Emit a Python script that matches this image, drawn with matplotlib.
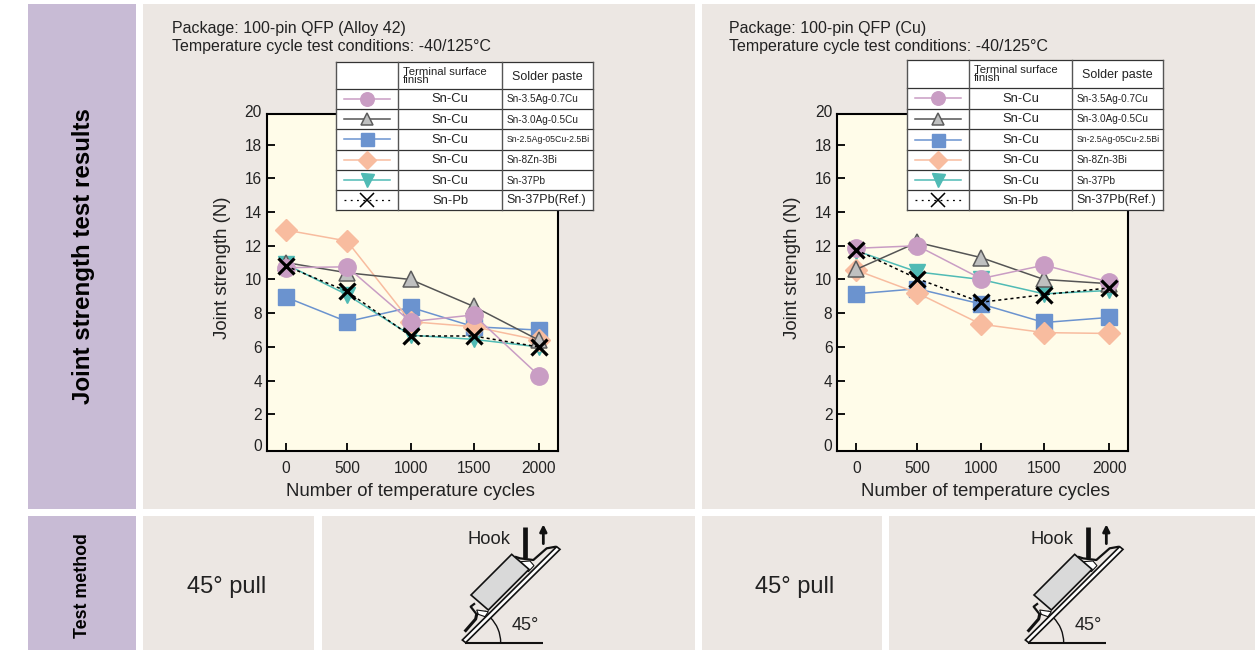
import matplotlib
matplotlib.use('Agg')
import matplotlib.pyplot as plt
from matplotlib.patches import Polygon, Rectangle, Arc

plt.rcParams['font.family'] = ['Liberation Sans', 'DejaVu Sans']

W, H = 1255, 650

# values
cycles = [0, 500, 1000, 1500, 2000]
cycle_pos = [0, 482, 985, 1484, 2000]  # the ticks are not quite evenly spaced
y_ticks = [2, 4, 6, 8, 10, 12, 14, 16, 18]

finish = ['Sn-Cu', 'Sn-Cu', 'Sn-Cu', 'Sn-Cu', 'Sn-Cu', 'Sn-Pb']
paste = ['Sn-3.5Ag-0.7Cu', 'Sn-3.0Ag-0.5Cu', 'Sn-2.5Ag-05Cu-2.5Bi', 'Sn-8Zn-3Bi', 'Sn-37Pb', 'Sn-37Pb(Ref.)']

alloy_circle = [10.7, 10.75, 7.5, 7.9, 4.3]
alloy_triangle = [11.0, 10.4, 10.0, 8.4, 6.4]
alloy_square = [8.95, 7.5, 8.35, 7.2, 7.0]
alloy_diamond = [12.93, 12.28, 7.5, 7.2, 6.4]
alloy_teal = [10.9, 9.1, 6.7, 6.45, 6.0]
alloy_ref = [10.8, 9.3, 6.65, 6.65, 6.0]

cu_circle = [11.85, 12.0, 10.05, 10.85, 9.85]
cu_triangle = [10.6, 12.2, 11.3, 10.0, 9.75]
cu_square = [9.15, 9.45, 8.55, 7.45, 7.75]
cu_diamond = [10.55, 9.2, 7.35, 6.85, 6.8]
cu_teal = [11.7, 10.45, 10.0, 9.15, 9.35]
cu_ref = [11.75, 10.05, 8.65, 9.1, 9.5]

# legend order
styles = [
    dict(color='#c99dc4', marker='o', ms=12.5, mfc='#c99dc4', mec='#c99dc4', lw=1.1, ls='-'),
    dict(color='#555555', marker='^', ms=11, mfc='#bfc0c0', mec='#5c5c5c', mew=1.1, lw=1.1, ls='-'),
    dict(color='#6b93cf', marker='s', ms=12, mfc='#6b93cf', mec='#6b93cf', lw=1.1, ls='-'),
    dict(color='#f8bc9f', marker='D', ms=11.3, mfc='#f8bc9f', mec='#f8bc9f', lw=1.1, ls='-'),
    dict(color='#50bbb5', marker='v', ms=12, mfc='#50bbb5', mec='#50bbb5', lw=1.1, ls='-'),
    dict(color='black', marker='x', ms=11, mec='black', mew=2.3, lw=1.1, ls=(0, (2, 2))),
]
draw_order = [4, 2, 3, 1, 0, 5]

PURPLE = '#c8bbd5'
BEIGE = '#ece7e3'
TEXT = '#222222'

fig = plt.figure(figsize=(W / 100, H / 100), dpi=100, facecolor='white')

# background panels, in pixel coords
bg = fig.add_axes([0, 0, 1, 1], zorder=0)
bg.set_xlim(0, W)
bg.set_ylim(H, 0)
bg.axis('off')
for x0, x1, y0, y1, c in [(28, 136, 4, 509, PURPLE), (28, 136, 516, 650, PURPLE),
                          (143, 695, 4, 509, BEIGE), (702, 1255, 4, 509, BEIGE),
                          (143, 314, 516, 650, BEIGE), (322, 695, 516, 650, BEIGE),
                          (702, 882, 516, 650, BEIGE), (889, 1255, 516, 650, BEIGE)]:
    bg.add_patch(Rectangle((x0, y0), x1 - x0, y1 - y0, fc=c, ec='none'))

bg.text(83.5, 256, 'Joint strength test results', rotation=90, ha='center', va='center',
        fontsize=17.4, fontweight='bold', color='black')
bg.text(82.5, 585.5, 'Test method', rotation=90, ha='center', va='center',
        fontsize=12.8, fontweight='bold', color='black')


def strength_chart(x_left, x_right, x_zero, x_label_px, values):
    ax = fig.add_axes([x_left / W, 1 - 450.7 / H, (x_right - x_left) / W, (450.7 - 114) / H], zorder=1)
    ax.set_facecolor('#fffce9')
    scale = 253 / 2000
    ax.set_xlim((x_left - x_zero) / scale, (x_right - x_zero) / scale)
    ax.set_ylim(-0.15, 19.81)
    for i in draw_order:
        ax.plot(cycle_pos, values[i], clip_on=False, **styles[i])
    ax.set_xticks(cycle_pos)
    ax.set_xticklabels(cycles)
    ax.set_yticks(y_ticks)
    ax.tick_params(direction='in', length=6, width=1.4, labelsize=11.2, color='#111111', labelcolor=TEXT)
    ax.tick_params(axis='x', pad=7.7)
    ax.tick_params(axis='y', pad=3.5)
    for val, lab in [(19.9, '20'), (0.12, '0')]:
        ax.annotate(lab, (0, val), xycoords=ax.get_yaxis_transform(), xytext=(-3.5, 0),
                    textcoords='offset points', ha='right', va='center', fontsize=11.2, color=TEXT,
                    annotation_clip=False)
    for s in ax.spines.values():
        s.set_linewidth(1.5)
    ax.set_xlabel('Number of temperature cycles', fontsize=13.4, color=TEXT)
    ax.xaxis.set_label_coords((x_label_px - x_left) / (x_right - x_left), -0.12)
    ax.xaxis.label.set_va('center')
    ax.set_ylabel('Joint strength (N)', fontsize=13.4, color=TEXT)
    ax.yaxis.set_label_coords((222.5 + x_zero - 286 - x_left) / (x_right - x_left), (450.7 - 268) / (450.7 - 114))
    ax.yaxis.label.set_va('center')
    return ax


strength_chart(266.7, 557.7, 286, 410, [alloy_circle, alloy_triangle, alloy_square, alloy_diamond, alloy_teal, alloy_ref])
strength_chart(837.3, 1128, 856.3, 985.5, [cu_circle, cu_triangle, cu_square, cu_diamond, cu_teal, cu_ref])

# everything on top of the charts, pixel coords again
top = fig.add_axes([0, 0, 1, 1], zorder=2)
top.set_xlim(0, W)
top.set_ylim(H, 0)
top.axis('off')
top.patch.set_alpha(0)


def legend_table(xs, ys):
    top.add_patch(Rectangle((xs[0], ys[0]), xs[3] - xs[0], ys[7] - ys[0], fc='white', ec='none', zorder=3))
    for y in ys:
        top.plot([xs[0], xs[3]], [y, y], color='#333333', lw=0.9, zorder=4)
    for x in xs:
        top.plot([x, x], [ys[0], ys[7]], color='#555555', lw=1.0, zorder=4)
    top.text(xs[1] + 5, (ys[0] + ys[1]) / 2 + 0.5, 'Terminal surface\nfinish', ha='left', va='center',
             fontsize=8.2, linespacing=0.75, color=TEXT, zorder=5)
    top.text((xs[2] + xs[3]) / 2, (ys[0] + ys[1]) / 2 + 1.5, 'Solder paste', ha='center', va='center',
             fontsize=9, color=TEXT, zorder=5)
    cx = (xs[0] + xs[1]) / 2
    for i in range(6):
        yc = (ys[i + 1] + ys[i + 2]) / 2
        st = dict(styles[i])
        st['ms'] = st['ms'] * 0.78
        if i == 5:
            st['mew'] = 1.1
            st['ms'] = 10.5
            st['ls'] = (0, (1.5, 3.5))
            st['lw'] = 0.9
        top.plot([cx - 23, cx, cx + 23], [yc, yc, yc], markevery=[1], zorder=5, **st)
        top.text((xs[1] + xs[2]) / 2, yc + 0.5, finish[i], ha='center', va='center', fontsize=9.4,
                 color=TEXT, zorder=5)
        fs = 9 if i == 5 else 6.3 if i == 2 else 7.2
        top.text(xs[2] + 4.5, yc + 0.5, paste[i], ha='left', va='center', fontsize=fs, color=TEXT, zorder=5)


legend_table([336, 398.3, 501.7, 592.7], [62.3, 88.6, 109, 129.3, 149.5, 170, 190, 210])
legend_table([906.7, 969.3, 1072.3, 1163.3], [60, 87.7, 108.7, 129.3, 149.7, 170, 190, 210])


def fixture(ox, oy):
    # drawn in the 3x zoom coords of the left-hand sketch
    def p(x, y):
        return ox + x / 3, oy + y / 3

    def poly(pts, **kw):
        top.add_patch(Polygon([p(*q) for q in pts], **kw))

    def line(pts, lw=1.0, color='#111111'):
        top.plot(*zip(*[p(*q) for q in pts]), color=color, lw=lw, solid_capstyle='butt', zorder=6)

    line([(105, 383), (338, 383)], lw=1.5)
    arc_c = p(105, 383)
    top.add_patch(Arc(arc_c, 214 / 3, 214 / 3, theta1=-45, theta2=0, lw=1.0, color='#111111', zorder=6))
    line([(285, 35), (285, 130)], lw=3.4)
    # leads and fillets
    line([(255, 125), (270, 130), (310, 135), (350, 100), (378, 95)], lw=1.6)
    line([(168, 290), (140, 298), (122, 275), (135, 265)], lw=1.6)
    line([(140, 298), (137, 312), (104, 350)], lw=2.2)
    poly([(272, 140), (300, 138), (312, 152), (295, 170)], fc='white', ec='#111111', lw=0.8, zorder=6)
    poly([(140, 285), (175, 290), (165, 305), (145, 298)], fc='white', ec='#111111', lw=0.8, zorder=6)
    # board
    poly([(97, 375), (380, 95), (390, 103), (107, 383)], fc='white', ec='#111111', lw=1.2, zorder=6)
    # package
    poly([(245, 118), (123, 240), (175, 285), (297, 163)], fc='#d9d9d9', ec='#111111', lw=1.2, zorder=7)
    # pull arrow
    top.annotate('', xy=p(340, 28), xytext=p(340, 86),
                 arrowprops=dict(arrowstyle='-|>', color='#111111', lw=2, mutation_scale=10,
                                 shrinkA=0, shrinkB=0), zorder=7)
    top.text(*p(178, 72), 'Hook', ha='center', va='center', fontsize=13.2, color=TEXT)
    top.text(*p(287, 332), '45°', ha='center', va='center', fontsize=13, color=TEXT)


fixture(430, 515)
fixture(993, 515)

top.text(172, 28, 'Package: 100-pin QFP (Alloy 42)', va='center', fontsize=11.5, color=TEXT)
top.text(172, 46.5, 'Temperature cycle test conditions: -40/125°C', va='center', fontsize=11.5, color=TEXT)
top.text(729, 28, 'Package: 100-pin QFP (Cu)', va='center', fontsize=11.5, color=TEXT)
top.text(729, 46.5, 'Temperature cycle test conditions: -40/125°C', va='center', fontsize=11.5, color=TEXT)
top.text(227, 586.5, '45° pull', ha='center', va='center', fontsize=17, color=TEXT)
top.text(795, 586.5, '45° pull', ha='center', va='center', fontsize=17, color=TEXT)

fig.savefig('out.png', dpi=100)
